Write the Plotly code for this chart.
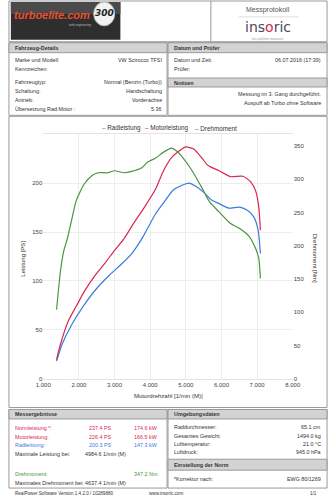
import plotly.graph_objects as go

# ---------------- data ----------------
torque_rpm = [1374, 1481, 1570, 1677, 1793, 1926, 2149, 2371, 2550, 2817, 2996, 3263, 3485, 3752,
              3931, 4153, 4375, 4599, 4733, 4909, 5176, 5444, 5667, 5934, 6245, 6512, 6780, 6958,
              7047, 7092]
torque_nm = [104, 161, 191, 211, 238, 268, 293, 306, 310, 310, 313, 310, 312, 317,
             326, 332, 341, 347, 343, 333, 313, 288, 266, 251, 234, 226, 214, 196,
             181, 151]

motor_rpm = [1374, 1481, 1703, 1926, 2149, 2460, 2728, 2996, 3263, 3530, 3841, 4153, 4375, 4599,
             4821, 5000, 5221, 5444, 5622, 5934, 6245, 6603, 6825, 6958, 7047, 7092]
motor_ps = [19.6, 35, 59, 74, 89, 106, 118, 131, 143, 158.5, 175.5, 194, 212.7, 226,
            233, 237, 234.8, 226, 218, 212.7, 206.6, 207, 201, 192, 175.5, 151.7]

rad_rpm = [1374, 1526, 1793, 2149, 2504, 2862, 3218, 3485, 3797, 4153, 4420, 4642, 4909, 5088,
           5267, 5489, 5711, 5934, 6202, 6512, 6736, 6914, 7030, 7092]
rad_ps = [18, 35, 55, 75.5, 92.5, 106, 118, 128, 145, 168.7, 182, 192.7, 198, 200,
          197, 191, 183, 179, 174.5, 175.5, 172, 165, 151.7, 128]

x_ticks = [1000, 2000, 3000, 4000, 5000, 6000, 7000, 8000]
x_ticktext = ["1.000", "2.000", "3.000", "4.000", "5.000", "6.000", "7.000", "8.000"]
ps_ticks = [0, 50, 100, 150, 200]
nm_ticks = [0, 50, 100, 150, 200, 250, 300, 350]

series_names = ["Radleistung", "Motorleistung", "Drehmoment"]

vehicle_labels = ["Marke und Modell:", "Kennzeichen:", "Fahrzeugtyp:", "Schaltung:", "Antrieb:",
                  "Übersetzung Rad:Motor :"]
vehicle_values = ["VW Scirocco TFSI", "", "Normal (Benzin (Turbo))", "Handschaltung", "Vorderachse", "5.36"]

result_labels = ["Normleistung *:", "Motorleistung:", "Radleistung:", "Maximale Leistung bei:",
                 "Drehmoment:", "Maximales Drehmoment bei:"]
result_ps = ["237.4 PS", "226.4 PS", "200.3 PS", "4984.6 1/min (M)", "", "4637.4 1/min (M)"]
result_kw = ["174.6 kW", "166.5 kW", "147.3 kW", "", "347.2 Nm", ""]

env_labels = ["Raddurchmesser:", "Gesamtes Gewicht:", "Lufttemperatur:", "Luftdruck:"]
env_values = ["65.1 cm", "1494.0 kg", "21.0 °C", "945.0 hPa"]

# ---------------- styling ----------------
W, H = 336, 500
BLUE = "#3a7bdc"
RED = "#d8284f"
GREEN = "#4b9440"
TXT = "#333333"
FONT = "Liberation Sans"
BORDER = "#9a9a9a"
HEAD_BG = "#d3d3d3"


def px(x):
    return x / W


def py(y):
    return 1 - y / H


shapes = []
annotations = []


def rect(x0, y0, x1, y1, fill=None, line=BORDER, width=1):
    shapes.append(dict(type="rect", xref="paper", yref="paper", x0=px(x0), x1=px(x1), y0=py(y0), y1=py(y1),
                       fillcolor=fill if fill else "rgba(0,0,0,0)",
                       line=dict(color=line, width=width) if width else dict(width=0), layer="below"))


def text(x, y, s, anchor="left", size=5.4, color=TXT, bold=False, family=FONT, angle=0):
    annotations.append(dict(xref="paper", yref="paper", x=px(x), y=py(y), text=f"<b>{s}</b>" if bold else s,
                            showarrow=False, xanchor=anchor, yanchor="middle", textangle=angle,
                            borderpad=0, font=dict(family=family, size=size, color=color)))


# outer header
rect(1, 1, 335, 42)
shapes.append(dict(type="line", xref="paper", yref="paper", x0=px(213), x1=px(213), y0=py(1), y1=py(42),
                   line=dict(color=BORDER, width=1)))
# turboelite logo
rect(3, 2, 118, 40, fill="#2e2e2e", width=0)
rect(3, 2, 118, 14, fill="#4a4a4a", width=0)
shapes.append(dict(type="circle", xref="paper", yref="paper", x0=px(90), x1=px(112), y0=py(2), y1=py(26),
                   fillcolor="#f2f2f2", line=dict(color="#bbbbbb", width=1)))
text(5, 15, "<i>turboelite.com</i>", size=11, color="#e8502e", bold=True)
text(101, 13, "<i>300</i>", anchor="center", size=9, color="#222222", bold=True, family="DejaVu Sans")
text(76, 25, "web engineering", anchor="center", size=3, color="#bbbbbb")
# insoric logo
text(273, 10, "Messprotokoll", anchor="center", size=7, color="#555555")
shapes.append(dict(type="line", xref="paper", yref="paper", x0=px(242), x1=px(305), y0=py(17), y1=py(17),
                   line=dict(color="#dddddd", width=1)))
text(273, 27.5, "ins<span style='color:#d8284f'>o</span>ric", anchor="center", size=14, color="#4a4a5a",
     family="DejaVu Sans")
text(273, 39.5, "less pollution measures", anchor="center", size=3, color="#999999")

# vehicle details box
rect(1, 43, 167, 116)
rect(1, 43, 167, 53, fill=HEAD_BG)
text(6, 48.5, "Fahrzeug-Details", bold=True)
veh_y = [60, 69, 82.7, 91.7, 100.5, 109.3]
for lab, val, yy in zip(vehicle_labels, vehicle_values, veh_y):
    text(6, yy, lab)
    if val:
        text(163, yy, val, anchor="right")

# date / notes box
rect(168, 43, 335, 116)
rect(168, 43, 335, 53, fill=HEAD_BG)
text(173, 48.5, "Datum und Prüfer", bold=True)
text(173, 60.5, "Datum und Zeit:")
text(330, 60.5, "06.07.2016 (17:39)", anchor="right")
text(173, 69, "Prüfer:")
rect(168, 78.5, 335, 87.5, fill=HEAD_BG)
text(173, 83, "Notizen", bold=True)
text(330, 95, "Messung im 3. Gang durchgeführt.", anchor="right")
text(330, 104, "Auspuff ab Turbo ohne Software", anchor="right")

# chart box
rect(1, 117, 335, 410)

# legend (manual)
leg_x = [98, 143, 195]
leg_c = [BLUE, RED, GREEN]
for xx, nm, cc in zip(leg_x, series_names, leg_c):
    text(xx, 129, f"<span style='color:{cc}'>–</span> {nm}", size=6.3)

# axis titles
text(168, 398, "Motordrehzahl [1/min (M)]", anchor="center", size=6)
text(16, 260, "Leistung [PS]", anchor="center", size=6, angle=-90)
text(322, 260, "Drehmoment [Nm]", anchor="center", size=6, angle=90)

# results box
rect(1, 412, 167, 491)
rect(1, 412, 167, 421.5, fill=HEAD_BG)
text(6, 417, "Messergebnisse", bold=True)
res_y = [431, 439.5, 447.8, 457, 476.5, 486]
res_col = [RED, RED, BLUE, TXT, GREEN, TXT]
for lab, v1, v2, yy, cc in zip(result_labels, result_ps, result_kw, res_y, res_col):
    text(6, yy, lab, color=cc)
    if v1:
        if "1/min" in v1:
            text(80, yy, v1, color=cc)
        else:
            text(97, yy, v1, anchor="center", color=cc)
    if v2:
        text(159, yy, v2, anchor="right", color=cc)

# environment box
rect(168, 412, 335, 491)
rect(168, 412, 335, 421.5, fill=HEAD_BG)
text(173, 417, "Umgebungsdaten", bold=True)
env_y = [430, 438.3, 446.3, 454.5]
for lab, val, yy in zip(env_labels, env_values, env_y):
    text(173, yy, lab)
    text(330, yy, val, anchor="right")
rect(168, 462, 335, 473, fill=HEAD_BG)
text(173, 467.5, "Einstellung der Norm", bold=True)
text(173, 481.5, "*Korrektur nach:")
text(330, 481.5, "EWG 80/1269", anchor="right")

# footer
text(6, 496, "RealPower Software Version 1.4.2.0 / 10289880", size=4.6)
text(166, 496, "www.insoric.com", anchor="center", size=4.6)
text(325, 496, "1/1", anchor="right", size=4.6)

# ---------------- traces ----------------
fig = go.Figure()
fig.add_trace(go.Scatter(x=rad_rpm, y=rad_ps, name=series_names[0], mode="lines",
                         line=dict(color=BLUE, width=1.2, shape="spline", smoothing=0.6)))
fig.add_trace(go.Scatter(x=motor_rpm, y=motor_ps, name=series_names[1], mode="lines",
                         line=dict(color=RED, width=1.2, shape="spline", smoothing=0.6)))
fig.add_trace(go.Scatter(x=torque_rpm, y=torque_nm, name=series_names[2], mode="lines", yaxis="y2",
                         line=dict(color=GREEN, width=1.2, shape="spline", smoothing=0.6)))

fig.update_layout(
    width=W, height=H,
    margin=dict(l=0, r=0, t=0, b=0),
    paper_bgcolor="white", plot_bgcolor="white",
    showlegend=False,
    font=dict(family=FONT, size=6, color=TXT),
    xaxis=dict(domain=[px(37), px(299)], range=[1000, 8000], tickvals=x_ticks, ticktext=x_ticktext,
               showgrid=True, gridcolor="#eeeeee", gridwidth=1, zeroline=False,
               showline=True, linecolor="#e3e3e3", mirror=True, ticks="",
               tickfont=dict(size=6, color="#444444")),
    yaxis=dict(domain=[1 - 381 / H, 1 - 135 / H], range=[0, 250], tickvals=ps_ticks,
               showgrid=True, gridcolor="#eeeeee", zeroline=False, showline=False, ticks="",
               tickfont=dict(size=6, color="#444444")),
    yaxis2=dict(overlaying="y", side="right", range=[0, 368], tickvals=nm_ticks, showgrid=False,
                zeroline=False, showline=False, ticks="", tickfont=dict(size=6, color="#444444")),
    shapes=shapes,
    annotations=annotations,
)

fig.write_html("out.html")
